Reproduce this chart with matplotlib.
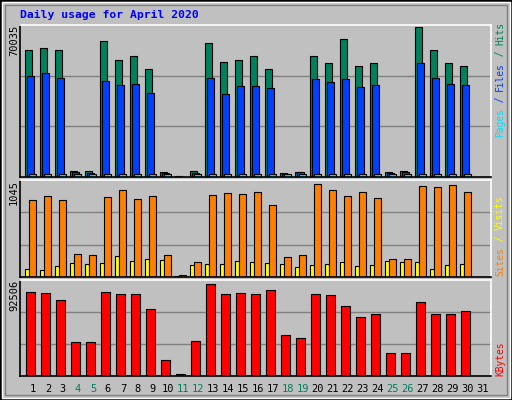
import matplotlib
matplotlib.use("Agg")
import matplotlib.pyplot as plt
from matplotlib.patches import Rectangle
import numpy as np

days = list(range(1, 32))
weekend = [4, 5, 11, 12, 18, 19, 25, 26]
hits = [58400, 59300, 58400, 2600, 2600, 62500, 53700, 55600, 49600, 2200, 300, 2600,
        61600, 53200, 54100, 55600, 49600, 1700, 2200, 55600, 52700, 63500, 51300, 52700,
        2200, 2600, 68900, 58400, 52400, 51300, 0]
files = [46400, 47800, 45500, 2200, 1700, 44100, 42200, 42700, 38500, 1700, 150, 1700,
         45500, 38100, 41800, 41800, 40900, 1200, 2200, 45000, 43600, 45000, 41300, 42200,
         1700, 2200, 52400, 45500, 42700, 42200, 0]
pages = [1200]*31
pages[10] = 150; pages[30] = 0
sites = [829, 872, 829, 251, 240, 861, 937, 840, 872, 240, 25, 164,
         883, 905, 894, 916, 774, 218, 240, 1003, 937, 872, 916, 850,
         196, 196, 981, 970, 992, 916, 0]
visits = [87, 76, 120, 153, 142, 153, 229, 174, 196, 185, 11, 131,
          142, 142, 174, 164, 153, 142, 109, 131, 142, 164, 120, 131,
          174, 164, 164, 87, 131, 142, 0]
kbytes = [80800, 79800, 73000, 33100, 33100, 80800, 78800, 78800, 64200, 15500, 1900, 34100,
          88600, 78800, 79800, 78800, 82700, 39900, 37000, 78800, 77900, 67200, 56500, 59400,
          22400, 22400, 71100, 59400, 59400, 62300, 0]
max_top, max_mid, max_bot = 70035, 1045, 92506

W, H = 512, 400
fig = plt.figure(figsize=(W/100, H/100), dpi=100)
fig.patch.set_facecolor('#C0C0C0')
def px(x, y, w, h):
    return [x/W, 1-(y+h)/H, w/W, h/H]
fig.add_artist(Rectangle((0, 0), 1, 1, transform=fig.transFigure, fill=False, ec='black', lw=2))
fig.add_artist(Rectangle((2/W, 2/H), 1-4/W, 1-4/H, transform=fig.transFigure, fill=False, ec='white', lw=1))
fig.add_artist(Rectangle((5/W, 5/H), 1-10/W, 1-10/H, transform=fig.transFigure, fill=False, ec='#808080', lw=1))

mono = 'DejaVu Sans Mono'
fig.text(20/W, 1-15/H, 'Daily usage for April 2020', color='#0000FF', family=mono,
         weight='bold', fontsize=8.2, va='center', ha='left')

xl = (0.667, 0.667 + 471/15)
def mkax(y0, y1, ymax):
    ax = fig.add_axes(px(20, y0, 471, y1-y0))
    ax.set_facecolor('#C0C0C0')
    ax.set_xlim(*xl); ax.set_ylim(0, ymax)
    ax.set_xticks([]); ax.set_yticks([])
    for y in (ymax/3, 2*ymax/3):
        ax.axhline(y, color='#808080', lw=1.0, zorder=0)
    ax.spines['left'].set_color('black'); ax.spines['bottom'].set_color('black')
    ax.spines['top'].set_color('white'); ax.spines['right'].set_color('white')
    for s in ax.spines.values(): s.set_linewidth(1.2)
    return ax

d = np.array(days, dtype=float)
kw = dict(align='edge', edgecolor='black', linewidth=0.8)
a1 = mkax(25, 177, max_top)
a1.bar(d, hits, width=0.47, color='#00805C', **kw)
a1.bar(d+0.13, files, width=0.47, color='#0040FF', **kw)
a1.bar(d+0.27, pages, width=0.47, color='#00E0FF', **kw)

a2 = mkax(180, 277, max_mid)
a2.bar(d, visits, width=0.3, color='#FFFF00', **kw)
a2.bar(d+0.27, sites, width=0.47, color='#FF8000', **kw)

a3 = mkax(280, 376, max_bot)
a3.bar(d+0.07, kbytes, width=0.63, color='#FF0000', **kw)

for dd in days:
    x = 20 + (dd + 0.53 - xl[0]) * 15
    fig.text(x/W, 1-389/H, str(dd), ha='center', va='center', family=mono, fontsize=7.5,
             color='#00805C' if dd in weekend else 'black')

for lab, ytop in ((str(max_top), 25), (str(max_mid), 180), (str(max_bot), 280)):
    fig.text(14/W, 1-ytop/H, lab, rotation=90, ha='center', va='top', family=mono, fontsize=7.5)

def vlabel(parts, ybottom, x=500):
    y = ybottom
    for txt, col in parts:
        fig.text(x/W, 1-y/H, txt, rotation=90, ha='center', va='bottom', family=mono,
                 fontsize=6.9, color=col)
        y -= len(txt) * 5.75
vlabel([('Pages', '#00E0FF'), (' / ', '#0040FF'), ('Files', '#0040FF'), (' / ', '#00805C'), ('Hits', '#00805C')], 137)
vlabel([('Sites', '#FF8000'), (' / ', '#FFFF00'), ('Visits', '#FFFF00')], 276)
vlabel([('KBytes', '#FF0000')], 376)

fig.savefig('out.png', dpi=100, facecolor=fig.get_facecolor())
